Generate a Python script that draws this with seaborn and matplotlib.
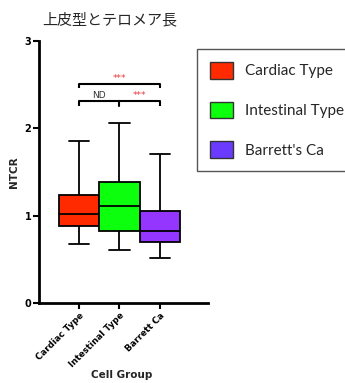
import numpy as np
import pandas as pd
import matplotlib
matplotlib.use("Agg")
import matplotlib.pyplot as plt
from matplotlib.patches import Patch
import seaborn as sns

# ---- data (five-number summaries) ----
groups = ["Cardiac Type", "Intestinal Type", "Barrett Ca"]
legend_labels = ["Cardiac Type", "Intestinal Type", "Barrett's Ca"]
cardiac = [0.68, 0.88, 1.02, 1.24, 1.855]
intestinal = [0.61, 0.83, 1.11, 1.39, 2.06]
barrett = [0.52, 0.70, 0.83, 1.05, 1.71]
box_colors = ["#FF2A00", "#0CFF0C", "#9436FF"]
legend_colors = ["#FF2A00", "#0CFF0C", "#6A3BFF"]
yticks = [0, 1, 2, 3]
title = "上皮型とテロメア長"
xlabel = "Cell Group"
ylabel = "NTCR"
# significance bracket levels
bracket_top = 2.51
bracket_low = 2.31

df = pd.DataFrame({
    "group": np.repeat(groups, 5),
    "val": cardiac + intestinal + barrett,
})

sns.set_theme(style="ticks")
plt.rcParams["font.family"] = ["DejaVu Sans"]

fig = plt.figure(figsize=(3.45, 3.83), dpi=100)
ax = fig.add_axes([39 / 345, 80 / 383, (208 - 39) / 345, (303 - 41) / 383])

sns.boxplot(data=df, x="group", y="val", hue="group", palette=box_colors,
            order=groups, hue_order=groups, width=1.0, whis=(0, 100),
            saturation=1, linecolor="black", linewidth=1.3, legend=False,
            ax=ax)

ax.set_xlim(-0.99, 3.19)
ax.set_ylim(0, 3)
ax.set_yticks(yticks)
ax.set_yticklabels([str(t) for t in yticks], fontsize=7, fontweight="bold")
ax.set_xticks(range(len(groups)))
ax.set_xticklabels(groups, rotation=45, ha="right", rotation_mode="anchor",
                   fontsize=6.3, fontweight="bold")
ax.tick_params(axis="both", length=4, width=1.5, pad=1.5, colors="black")
ax.set_xlabel(xlabel, fontsize=7.5, fontweight="bold")
ax.set_ylabel(ylabel, fontsize=7.5, fontweight="bold", labelpad=4)
for s in ["left", "bottom"]:
    ax.spines[s].set_linewidth(2)
    ax.spines[s].set_color("black")
sns.despine(ax=ax)
ax.xaxis.set_label_coords(0.49, -0.255)

# significance brackets
lw = 1.5
h = 0.05
ax.plot([0, 0, 2, 2], [bracket_top - h, bracket_top, bracket_top, bracket_top - h],
        color="black", lw=lw, solid_capstyle="butt")
ax.plot([0, 0, 2, 2], [bracket_low - h, bracket_low, bracket_low, bracket_low - h],
        color="black", lw=lw, solid_capstyle="butt")
ax.plot([1, 1], [bracket_low, bracket_low - h], color="black", lw=lw)
ax.text(1, bracket_top + 0.01, "***", color="#E8393A", fontsize=6.5,
        ha="center", va="bottom")
ax.text(0.5, bracket_low + 0.01, "ND", color="#333333", fontsize=6.5,
        ha="center", va="bottom")
ax.text(1.5, bracket_low + 0.01, "***", color="#E8393A", fontsize=6.5,
        ha="center", va="bottom")

# title
fig.text(42 / 345, 1 - 20 / 383, title, fontsize=10.8, va="center", ha="left",
         family=["Noto Sans CJK JP", "DejaVu Sans"])

# legend
handles = [Patch(facecolor=c, edgecolor="#333333", linewidth=1)
           for c in legend_colors]
leg = fig.legend(handles, legend_labels, loc="upper left",
                 bbox_to_anchor=(197 / 345, 1 - 49 / 383),
                 bbox_transform=fig.transFigure, borderaxespad=0,
                 frameon=True, fancybox=False, shadow=False,
                 prop={"family": "Lato", "size": 11.0},
                 handlelength=1.5, handleheight=1.3, handletextpad=0.8,
                 labelspacing=1.5, borderpad=0.85)
leg.get_frame().set_edgecolor("#555555")
leg.get_frame().set_linewidth(1.0)
leg.get_frame().set_alpha(1)

fig.savefig("out.png", dpi=100)
